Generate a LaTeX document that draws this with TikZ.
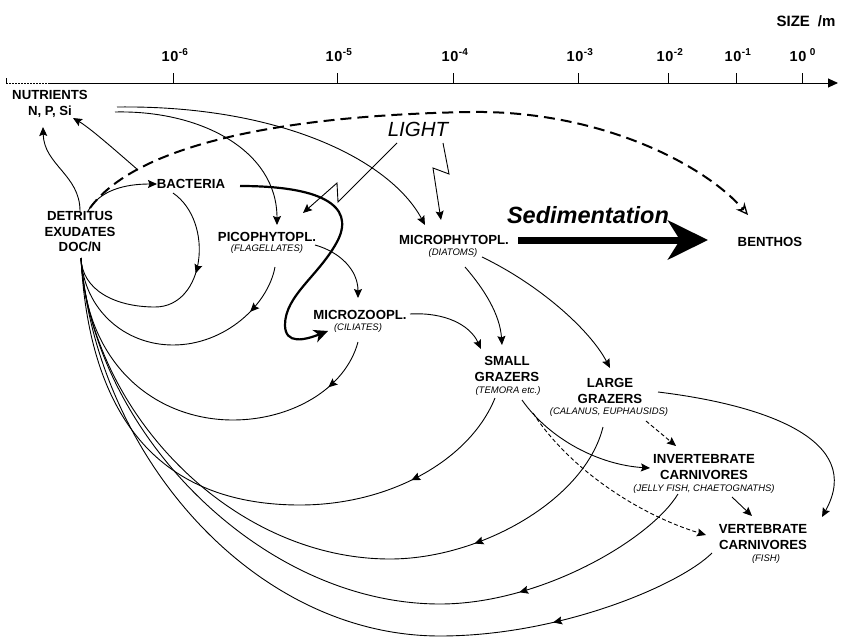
\documentclass[tikz,border=0pt]{standalone}
\usepackage{fontspec}
\setmainfont{Liberation Sans}
\usetikzlibrary{arrows.meta,decorations.markings}
\begin{document}
\begin{tikzpicture}[x=1pt,y=-1pt,
  main/.style={font=\fontsize{13.2}{16.5}\selectfont\bfseries, inner sep=1pt, align=center},
  sub/.style={font=\fontsize{9.5}{11}\selectfont\itshape, inner sep=1pt},
  tk/.style={font=\fontsize{14.5}{14.5}\selectfont\bfseries, inner sep=0pt},
  tip/.tip={Stealth[length=9pt,width=8pt,inset=1.5pt]},
  flow/.style={line width=0.9pt, -tip},
  dsh/.style={flow, dash pattern=on 4pt off 2.5pt},
  back/.style={line width=0.9pt, postaction={decorate},
    decoration={markings, mark=at position #1 with {\arrow{tip}}}},
]
\useasboundingbox (0,0) rectangle (852,637);

% ---------- size axis ----------
\coordinate (ax0) at (6,83);
\coordinate (ax1) at (50,83);
\coordinate (ax2) at (838,83);
\coordinate (ax00) at (6,78);
\draw[line width=0.6pt] (ax00) -- (ax0);
\draw[line width=0.5pt, dash pattern=on 2pt off 1pt] (ax0) -- (ax1);
\draw[line width=0.9pt, -{Triangle[length=10pt,width=9pt]}] (ax1) -- (ax2);
\foreach \x/\e in {173/-6, 337/-5, 453/-4, 578/-3, 668/-2, 736/-1}{
  \draw[line width=0.6pt] (\x,83) -- (\x,73);
  \node[tk] (lab\x) at (\x-3,55) {1\kern0.8pt0\rlap{\raisebox{6.5pt}{\fontsize{10}{10}\selectfont\kern0.5pt\e}}};
}
\draw[line width=0.6pt] (802,83) -- (802,73);
\node[tk] (lab802) at (798,55) {1\kern0.8pt0\rlap{\hspace{3.5pt}\raisebox{6.5pt}{\fontsize{10}{10}\selectfont 0}}};
\node[tk, font=\fontsize{15}{15}\selectfont\bfseries] (size) at (806,21) {SIZE\hspace{8pt}/m};

% ---------- nodes ----------
\node[main] (nut) at (50,104) {NUTRIENTS\\N, P, Si};
\node[main, font=\fontsize{13.2}{15.5}\selectfont\bfseries] (det) at (80,232) {DETRITUS\\EXUDATES\\DOC/N};
\node[main] (bac) at (191,184) {BACTERIA};
\node[main] (pico) at (267,237) {PICOPHYTOPL.};
\node[sub] (picos) at (267,249) {(FLAGELLATES)};
\node[main] (mzoo) at (360,315) {MICROZOOPL.};
\node[sub] (mzoos) at (358,328) {(CILIATES)};
\node[main] (mphy) at (454,240) {MICROPHYTOPL.};
\node[sub] (mphys) at (453,253) {(DIATOMS)};
\node[font=\fontsize{23.5}{23.5}\selectfont\bfseries\itshape, inner sep=0pt] (sed) at (588,215) {Sedimentation};
\node[main] (ben) at (770,242) {BENTHOS};
\node[font=\fontsize{20.5}{20.5}\selectfont\itshape, inner sep=0pt] (light) at (418,129) {LIGHT};
\node[main] (sg) at (507,369) {SMALL\\GRAZERS};
\node[sub] (sgs) at (508,391) {(TEMORA etc.)};
\node[main] (lg) at (610,391) {LARGE\\GRAZERS};
\node[sub] (lgs) at (609,412) {(CALANUS, EUPHAUSIDS)};
\node[main] (ic) at (704,467) {INVERTEBRATE\\CARNIVORES};
\node[sub] (ics) at (704,489) {(JELLY FISH, CHAETOGNATHS)};
\node[main] (vc) at (763,537) {VERTEBRATE\\CARNIVORES};
\node[sub] (vcs) at (766,559) {(FISH)};

% ---------- connectors ----------
% nutrients cycle
\draw[flow] ([shift={(0,-21)}]det.center) .. controls (80,175) and (44,165) .. ([shift={(-7,23)}]nut.center);
\draw[flow] ([shift={(-53,-14)}]bac.center) .. controls (115,150) and (90,128) .. ([shift={(23,14)}]nut.center);
\draw[flow] ([shift={(65,8)}]nut.center) .. controls (200,110) and (277,150) .. ([shift={(10,-12)}]pico.center);
\draw[flow] ([shift={(67,3)}]nut.center) .. controls (280,105) and (390,160) .. ([shift={(-29,-15)}]mphy.center);
\draw[flow] ([shift={(8,-21)}]det.center) .. controls (100,190) and (125,184) .. ([shift={(-34,0)}]bac.center);

% dashed sinking to benthos
\draw[line width=2pt, dash pattern=on 11pt off 6pt,
  -{Stealth[length=12pt,width=11pt,inset=4pt,open,line width=1.3pt]}]
  ([shift={(10,-24)}]det.center) .. controls (140,140) and (300,115) .. (470,112)
  .. controls (600,110) and (705,165) .. ([shift={(-22,-27)}]ben.center);

% sedimentation
\draw[line width=7pt, -{Stealth[length=40pt,width=39pt,inset=12pt]}]
  ([shift={(64,0)}]mphy.center) -- ([shift={(-62,-2)}]ben.center);

% return flows to detritus
\draw[back=89pt] ([shift={(-18,9)}]bac.center) .. controls (215,222) and (205,307) .. (155,307)
  .. controls (115,307) and (82,290) .. ([shift={(1,26)}]det.center);
\draw[back=52pt] ([shift={(8,18)}]picos.center) .. controls (268,305) and (225,345) .. (173,345)
  .. controls (125,345) and (84,310) .. ([shift={(1,26)}]det.center);
\draw[back=55pt] ([shift={(0,14)}]mzoos.center) .. controls (345,390) and (290,420) .. (233,420)
  .. controls (160,420) and (86,370) .. ([shift={(1,26)}]det.center);
\draw[back=120pt] ([shift={(-13,7)}]sgs.center) .. controls (470,460) and (390,505) .. (300,505)
  .. controls (170,505) and (90,430) .. ([shift={(1,26)}]det.center);
\draw[back=180pt] ([shift={(-6,15)}]lgs.center) .. controls (585,500) and (480,559) .. (390,559)
  .. controls (230,559) and (90,410) .. ([shift={(1,26)}]det.center);
\draw[back=190pt] ([shift={(-26,5)}]ics.center) .. controls (650,540) and (540,604) .. (440,604)
  .. controls (260,604) and (92,430) .. ([shift={(1,26)}]det.center);
\draw[back=175pt] ([shift={(-54,-6)}]vcs.center) .. controls (680,585) and (560,636) .. (440,636)
  .. controls (250,636) and (95,450) .. ([shift={(1,26)}]det.center);

% grazing
\draw[flow] ([shift={(48,8)}]pico.center) .. controls (340,252) and (358,270) .. ([shift={(-2,-17)}]mzoo.center);
\draw[line width=2.2pt, -{Stealth[length=14pt,width=13pt,inset=4pt]}]
  ([shift={(49,2)}]bac.center) .. controls (320,186) and (355,205) .. (338,240)
  .. controls (320,275) and (285,295) .. (285,325)
  .. controls (285,345) and (305,340) .. ([shift={(-30,3)}]mzoos.center);
\draw[flow] ([shift={(50,-1)}]mzoo.center) .. controls (445,312) and (470,325) .. ([shift={(-26,-20)}]sg.center);
\draw[flow] ([shift={(12,14)}]mphys.center) .. controls (485,290) and (500,315) .. ([shift={(-5,-24)}]sg.center);
\draw[flow] ([shift={(29,4)}]mphys.center) .. controls (540,285) and (590,330) .. ([shift={(0,-23)}]lg.center);

% light
\draw[flow] ([shift={(-21,14)}]light.center) -- (338,202) -- (337,183) -- ([shift={(36,-24)}]pico.center);
\draw[flow] ([shift={(25,14)}]light.center) -- (449,174) -- (433,168) -- ([shift={(-13,-20)}]mphy.center);

% carnivores
\draw[flow] ([shift={(14,9)}]sgs.center) .. controls (550,440) and (600,465) .. ([shift={(-54,1)}]ic.center);
\draw[dsh] ([shift={(25,22)}]sgs.center) .. controls (570,470) and (640,515) .. ([shift={(-57,-2)}]vc.center);
\draw[dsh] ([shift={(37,9)}]lgs.center) -- ([shift={(-28,-21)}]ic.center);
\draw[flow] ([shift={(48,1)}]lg.center) .. controls (765,405) and (865,440) .. ([shift={(59,-20)}]vc.center);
\draw[flow] ([shift={(28,8)}]ics.center) -- ([shift={(-11,-21)}]vc.center);
\end{tikzpicture}
\end{document}
